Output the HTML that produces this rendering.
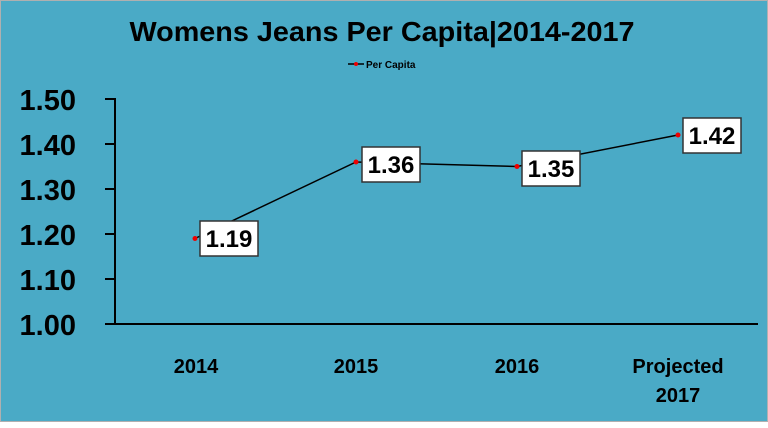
<!DOCTYPE html>
<html><head><style>
body{margin:0;width:768px;height:423px;overflow:hidden;background:#fff}
</style></head><body>
<svg width="768" height="423" xmlns="http://www.w3.org/2000/svg" font-family="Liberation Sans, sans-serif" font-weight="bold">
<rect x="0.5" y="0.5" width="767" height="421" fill="#4aaac6" stroke="#b0b0b0"/>
<text x="382" y="41" font-size="28" text-anchor="middle" fill="#000" textLength="505" lengthAdjust="spacingAndGlyphs">Womens Jeans Per Capita|2014-2017</text>
<line x1="348" y1="64" x2="364" y2="64" stroke="#000" stroke-width="1.5"/>
<circle cx="356" cy="64" r="2" fill="#e00"/>
<text x="366" y="68" font-size="10" fill="#000">Per Capita</text>
<g stroke="#000" stroke-width="2">
<line x1="115" y1="98" x2="115" y2="324"/>
<line x1="115" y1="324" x2="758" y2="324"/>
<line x1="105" y1="99" x2="115" y2="99"/>
<line x1="105" y1="144" x2="115" y2="144"/>
<line x1="105" y1="189" x2="115" y2="189"/>
<line x1="105" y1="234" x2="115" y2="234"/>
<line x1="105" y1="279" x2="115" y2="279"/>
<line x1="105" y1="324" x2="115" y2="324"/>
</g>
<g font-size="29" text-anchor="end" fill="#000">
<text x="76" y="110">1.50</text><text x="76" y="155">1.40</text><text x="76" y="200">1.30</text>
<text x="76" y="245">1.20</text><text x="76" y="290">1.10</text><text x="76" y="335">1.00</text>
</g>
<g font-size="20" text-anchor="middle" fill="#000">
<text x="196" y="373">2014</text><text x="356" y="373">2015</text><text x="517" y="373">2016</text>
<text x="678" y="373">Projected</text><text x="678" y="402">2017</text>
</g>
<polyline points="195,238.5 356,162 517,166.5 678,135" fill="none" stroke="#000" stroke-width="1.5"/>
<g fill="#e00"><circle cx="195" cy="238.5" r="2.5"/><circle cx="356" cy="162" r="2.5"/><circle cx="517" cy="166.5" r="2.5"/><circle cx="678" cy="135" r="2.5"/></g>
<g fill="#fff" stroke="#333" stroke-width="1.5">
<rect x="200" y="221" width="58" height="35"/>
<rect x="362" y="147" width="58" height="35"/>
<rect x="522" y="151" width="58" height="35"/>
<rect x="683" y="118" width="58" height="35"/>
</g>
<g font-size="24" text-anchor="middle" fill="#000">
<text x="229" y="247">1.19</text><text x="391" y="173">1.36</text>
<text x="551" y="177">1.35</text><text x="712" y="144">1.42</text>
</g>
</svg>
</body></html>
